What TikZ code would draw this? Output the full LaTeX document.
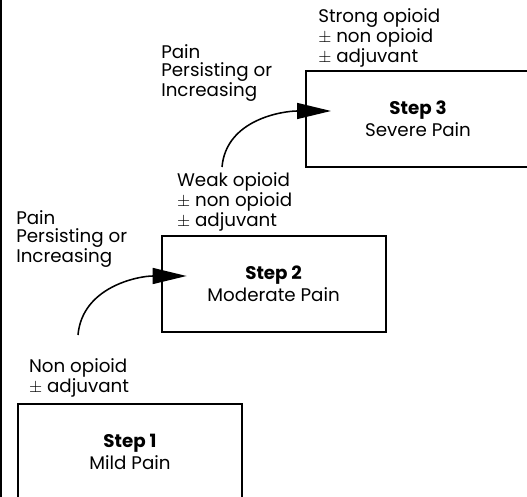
\documentclass[tikz,border=0pt]{standalone}
\usepackage{fontspec}
\setmainfont{Poppins}
\usetikzlibrary{arrows.meta}

\begin{document}
\begin{tikzpicture}[
  stepbox/.style={draw,line width=1.4pt,minimum width=5.6cm,minimum height=2.4cm,align=center,inner sep=0pt,font=\fontsize{13}{15.6}\selectfont},
  note/.style={anchor=base west,align=left,inner sep=0pt,font=\fontsize{13}{13.2}\selectfont},
  climb/.style={line width=1.1pt,-{Triangle[length=0.85cm,width=0.4cm]}}]
\useasboundingbox (0,0) rectangle (13.175,12.425);
\draw[line width=1pt] (0.02,0) -- (0.02,12.425);
\draw (3.25,1.12) node[stepbox](stepone) {\textbf{Step 1}\\Mild Pain};
\draw (6.84,5.325) node[stepbox](steptwo) {\textbf{Step 2}\\Moderate Pain};
\draw (10.45,9.45) node[stepbox](stepthree) {\textbf{Step 3}\\Severe Pain};
% labels: base = last line
\draw (0.72,2.6) node[note](drugone) {Non opioid\\$\pm$ adjuvant};
\draw (4.42,6.75) node[note](drugtwo) {Weak opioid\\$\pm$ non opioid\\$\pm$ adjuvant};
\draw (7.95,10.85) node[note](drugthree) {Strong opioid\\$\pm$ non opioid\\$\pm$ adjuvant};
\draw (0.4,5.85) node[note](painone) {Pain\\Persisting or\\Increasing};
\draw (4.025,10.0) node[note](paintwo) {Pain\\Persisting or\\Increasing};
\coordinate (riseone) at (1.95,4.05);
\coordinate (risetwo) at (5.55,8.25);
\coordinate (intotwo) at ([shift={(0.65,0.2)}]steptwo.west);
\coordinate (intothree) at ([shift={(0.65,0.2)}]stepthree.west);
\draw[climb] (riseone) to[out=85,in=180] (intotwo);
\draw[climb] (risetwo) to[out=85,in=180] (intothree);
\end{tikzpicture}
\end{document}
